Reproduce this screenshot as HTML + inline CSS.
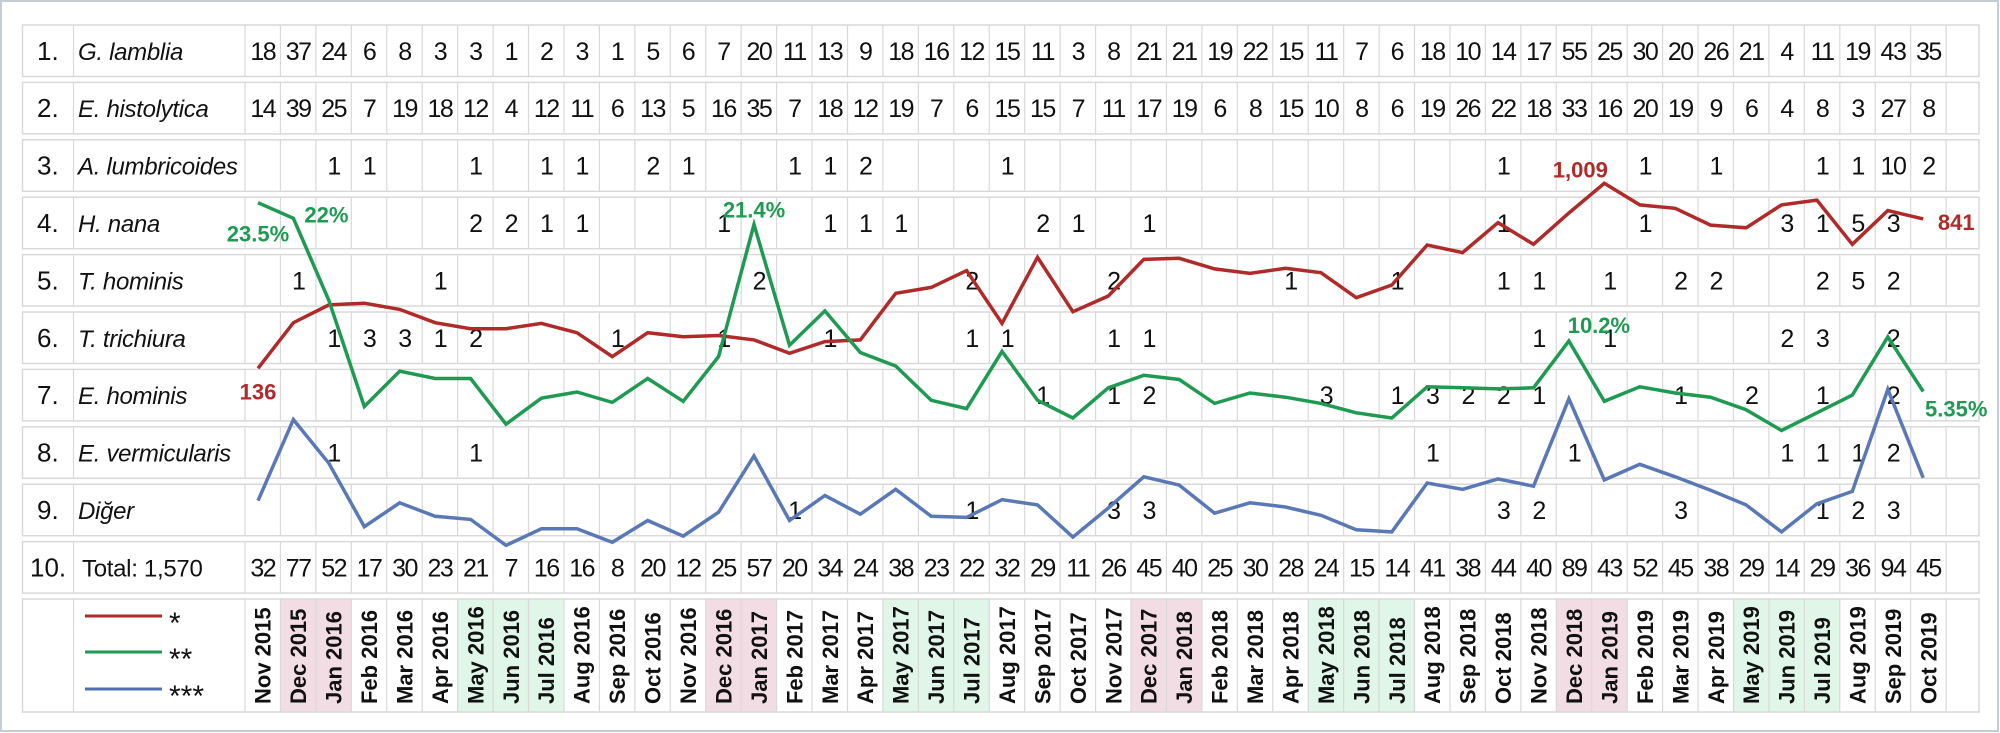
<!DOCTYPE html>
<html><head><meta charset="utf-8"><style>
html,body{margin:0;padding:0;background:#fff;}
svg{display:block;font-family:"Liberation Sans",sans-serif;}
</style></head><body>
<svg id="chart" width="2000" height="733" viewBox="0 0 2000 733" xmlns="http://www.w3.org/2000/svg">
<rect x="1" y="1" width="1997" height="730" fill="#fff" stroke="#c5ccd6" stroke-width="2"/>
<g id="grid"></g><g id="texts"></g><g id="lines"></g><g id="labels"></g>
</svg>
<script>
const months=["Nov 2015","Dec 2015","Jan 2016","Feb 2016","Mar 2016","Apr 2016","May 2016","Jun 2016","Jul 2016","Aug 2016","Sep 2016","Oct 2016","Nov 2016","Dec 2016","Jan 2017","Feb 2017","Mar 2017","Apr 2017","May 2017","Jun 2017","Jul 2017","Aug 2017","Sep 2017","Oct 2017","Nov 2017","Dec 2017","Jan 2018","Feb 2018","Mar 2018","Apr 2018","May 2018","Jun 2018","Jul 2018","Aug 2018","Sep 2018","Oct 2018","Nov 2018","Dec 2018","Jan 2019","Feb 2019","Mar 2019","Apr 2019","May 2019","Jun 2019","Jul 2019","Aug 2019","Sep 2019","Oct 2019"];
const seriesRed=[136,351,435,443,414,351,323,323,348,304,191,304,285,291,270,207,262,270,490,518,597,348,660,403,477,650,655,605,584,608,587,469,529,718,682,823,721,869,1009,907,891,812,799,907,930,721,880,841];
const seriesGreen=[23.5,22.0,14.1,3.9,7.3,6.6,6.6,2.2,4.7,5.3,4.3,6.6,4.4,8.7,21.4,9.8,13.1,9.1,7.8,4.5,3.7,9.2,4.5,2.8,5.7,6.9,6.5,4.2,5.2,4.8,4.2,3.3,2.8,5.8,5.7,5.6,5.7,10.2,4.4,5.8,5.2,4.8,3.6,1.6,3.3,5.0,10.6,5.35];
const seriesBlue=[5.7,13.5,9.3,3.2,5.5,4.2,3.9,1.4,3.0,3.0,1.7,3.8,2.3,4.6,10.0,3.8,6.2,4.4,6.8,4.2,4.1,5.8,5.3,2.2,5.0,8.0,7.2,4.5,5.5,5.1,4.3,2.9,2.7,7.4,6.8,7.8,7.1,15.5,7.7,9.2,8.0,6.7,5.3,2.7,5.4,6.6,16.4,7.9];
const redLabels=[[0,"136"],[38,"1,009"],[47,"841"]];
const greenLabels=[[0,"23.5%"],[1,"22%"],[14,"21.4%"],[37,"10.2%"],[47,"5.35%"]];
const rowNames=["G. lamblia","E. histolytica","A. lumbricoides","H. nana","T. hominis","T. trichiura","E. hominis","E. vermicularis","Diğer","Total: 1,570"];
const row1=[18,37,24,6,8,3,3,1,2,3,1,5,6,7,20,11,13,9,18,16,12,15,11,3,8,21,21,19,22,15,11,7,6,18,10,14,17,55,25,30,20,26,21,4,11,19,43,35];
const row2=[14,39,25,7,19,18,12,4,12,11,6,13,5,16,35,7,18,12,19,7,6,15,15,7,11,17,19,6,8,15,10,8,6,19,26,22,18,33,16,20,19,9,6,4,8,3,27,8];
const row3=[[2,1],[3,1],[6,1],[8,1],[9,1],[11,2],[12,1],[15,1],[16,1],[17,2],[21,1],[35,1],[39,1],[41,1],[44,1],[45,1],[46,10],[47,2]];
const row4=[[6,2],[7,2],[8,1],[9,1],[13,1],[16,1],[17,1],[18,1],[22,2],[23,1],[25,1],[35,1],[39,1],[43,3],[44,1],[45,5],[46,3]];
const row5=[[1,1],[5,1],[14,2],[20,2],[24,2],[29,1],[32,1],[35,1],[36,1],[38,1],[40,2],[41,2],[44,2],[45,5],[46,2]];
const row6=[[2,1],[3,3],[4,3],[5,1],[6,2],[10,1],[13,1],[16,1],[20,1],[21,1],[24,1],[25,1],[36,1],[38,1],[43,2],[44,3],[46,2]];
const row7=[[22,1],[24,1],[25,2],[30,3],[32,1],[33,3],[34,2],[35,2],[36,1],[40,1],[42,2],[44,1],[46,2]];
const row8=[[2,1],[6,1],[33,1],[37,1],[43,1],[44,1],[45,1],[46,2]];
const row9=[[15,1],[20,1],[24,3],[25,3],[35,3],[36,2],[40,3],[44,1],[45,2],[46,3]];
const row10=[32,77,52,17,30,23,21,7,16,16,8,20,12,25,57,20,34,24,38,23,22,32,29,11,26,45,40,25,30,28,24,15,14,41,38,44,40,89,43,52,45,38,29,14,29,36,94,45];
const pinkCols=[1,2,13,14,25,26,37,38];
const greenCols=[6,7,8,18,19,20,30,31,32,42,43,44];

const NS="http://www.w3.org/2000/svg";
function mk(tag,attrs,parent,txt){const e=document.createElementNS(NS,tag);for(const k in attrs)e.setAttribute(k,attrs[k]);if(txt!==undefined)e.textContent=txt;parent.appendChild(e);return e;}
const L=22.5,NUMR=73.5,NAMER=245,CW=35.44,RIGHT=1979;
const rowTop=r=>25+57.4*r, RH=51.5;
const colX=i=>NAMER+CW*i;
const colC=i=>NAMER+CW*(i+0.5);
const xAt=i=>258+35.43*i;
const yRed=v=>368.3-(v-136)*0.2119;
const yGreen=v=>202.7+(23.5-v)*10.4;
const yBlue=v=>560-v*10.4;
const grid=document.getElementById('grid'),texts=document.getElementById('texts'),linesG=document.getElementById('lines'),labelsG=document.getElementById('labels');
const GC="#d9d9d9";
const DATE_TOP=rowTop(10),DATE_BOT=712;
pinkCols.forEach(i=>{const r=mk('rect',{x:colX(i),y:DATE_TOP,width:CW,height:DATE_BOT-DATE_TOP,fill:'#f3dde5'},grid);

});
greenCols.forEach(i=>{const r=mk('rect',{x:colX(i),y:DATE_TOP,width:CW,height:DATE_BOT-DATE_TOP,fill:'#e0f6e8'},grid);

});
for(let r=0;r<11;r++){const top=rowTop(r),h=r<10?RH:DATE_BOT-DATE_TOP;
 const b=mk('rect',{x:L,y:top,width:RIGHT-L,height:h,fill:'none',stroke:GC,'stroke-width':1.5},grid);
 
 
 mk('line',{x1:NUMR,y1:top,x2:NUMR,y2:top+h,stroke:GC,'stroke-width':1.2},grid);
 for(let i=0;i<=48;i++)mk('line',{x1:colX(i),y1:top,x2:colX(i),y2:top+h,stroke:GC,'stroke-width':1.2},grid);
}
const NUMFONT='font-family:"Liberation Sans Narrow","Liberation Sans",sans-serif';
rowNames.forEach((n,r)=>{const cy=rowTop(r)+RH/2+9;
 const t=mk('text',{x:r<9?37:30,y:cy,'font-size':26,fill:'#111'},texts,(r+1)+'.');
 
 
 const nm=mk('text',{x:r<9?78:82,y:cy,'font-size':24,fill:'#111','font-style':r<9?'italic':'normal','letter-spacing':'-0.3'},texts,n);
 
 
});
function cell(r,i,v){const t=mk('text',{x:colC(i),y:rowTop(r)+RH/2+9,'font-size':25,'text-anchor':'middle',fill:'#111',style:NUMFONT,'letter-spacing':'-1.5'},texts,String(v));
 
 }
row1.forEach((v,i)=>cell(0,i,v));
row2.forEach((v,i)=>cell(1,i,v));
[row3,row4,row5,row6,row7,row8,row9].forEach((arr,k)=>arr.forEach(([i,v])=>cell(k+2,i,v)));
row10.forEach((v,i)=>cell(9,i,v));
months.forEach((m,i)=>{const x=colC(i)+8,y=704;
 const t=mk('text',{x:x,y:y,'font-size':22,'font-weight':'600',fill:'#111',transform:`rotate(-90 ${x} ${y})`},texts,m);
 
 });
[['#b02a2a','*',616],['#1f9a52','**',652],['#5070b0','***',689]].forEach(([c,s,y])=>{
 const l=mk('line',{x1:85,y1:y,x2:162,y2:y,stroke:c,'stroke-width':3},texts);
 
 
 const t=mk('text',{x:169,y:y+17,'font-size':30,fill:'#111'},texts,s);
 
 });
function series(vals,yf,color,name){const pts=vals.map((v,i)=>xAt(i).toFixed(1)+','+yf(v).toFixed(1)).join(' ');
 const p=mk('polyline',{points:pts,fill:'none',stroke:color,'stroke-width':3.5,'stroke-linejoin':'miter'},linesG);
 
 }
series(seriesRed,yRed,'#b02a2a','series-star-line');
series(seriesGreen,yGreen,'#1f9a52','series-double-star-line');
series(seriesBlue,yBlue,'#5a78b5','series-triple-star-line');
const redOff={0:[0,23],38:[-24,-14],47:[33,3]};
redLabels.forEach(([i,t])=>{const o=redOff[i];const e=mk('text',{x:xAt(i)+o[0],y:yRed(seriesRed[i])+o[1]+8,'font-size':22,'font-weight':'bold','text-anchor':'middle',fill:'#b02a2a',style:NUMFONT},labelsG,t);
 
 });
const greenOff={0:[0,31],1:[33,-4],14:[0,-15],37:[30,-16],47:[33,17]};
greenLabels.forEach(([i,t])=>{const o=greenOff[i];const e=mk('text',{x:xAt(i)+o[0],y:yGreen(seriesGreen[i])+o[1]+8,'font-size':22,'font-weight':'bold','text-anchor':'middle',fill:'#1f9a52',style:NUMFONT},labelsG,t);
 
 });
</script>
</body></html>
